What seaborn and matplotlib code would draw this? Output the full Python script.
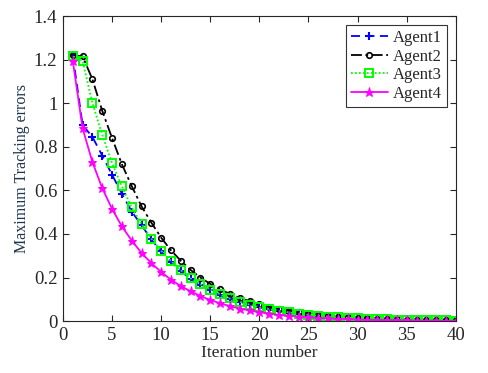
import numpy as np
import pandas as pd
import matplotlib
matplotlib.use("Agg")
import matplotlib.pyplot as plt
import seaborn as sns

# iteration numbers and max tracking errors
iterations = list(range(1, 41))

agent1 = [1.22, 0.90, 0.845, 0.76, 0.672, 0.585, 0.503, 0.44, 0.375, 0.32,
          0.272, 0.23, 0.193, 0.167, 0.142, 0.12, 0.102, 0.087, 0.074, 0.063,
          0.054, 0.046, 0.039, 0.033, 0.028, 0.024, 0.0205, 0.0175, 0.015, 0.0127,
          0.0108, 0.0092, 0.0078, 0.0066, 0.0056, 0.0048, 0.0041, 0.0035, 0.003, 0.0025]
agent2 = [1.22, 1.215, 1.11, 0.965, 0.84, 0.72, 0.62, 0.527, 0.452, 0.383,
          0.325, 0.277, 0.235, 0.20, 0.171, 0.146, 0.125, 0.107, 0.091, 0.077,
          0.066, 0.056, 0.048, 0.041, 0.035, 0.030, 0.025, 0.021, 0.018, 0.016,
          0.013, 0.011, 0.0097, 0.0083, 0.007, 0.006, 0.0051, 0.0044, 0.0037, 0.0032]
agent3 = [1.215, 1.195, 1.0, 0.855, 0.725, 0.618, 0.522, 0.446, 0.379, 0.323,
          0.276, 0.234, 0.196, 0.17, 0.145, 0.123, 0.104, 0.089, 0.076, 0.064,
          0.055, 0.047, 0.04, 0.034, 0.029, 0.025, 0.021, 0.018, 0.015, 0.013,
          0.011, 0.0094, 0.008, 0.0068, 0.0058, 0.005, 0.0042, 0.0036, 0.0031, 0.0026]
agent4 = [1.195, 0.885, 0.73, 0.61, 0.515, 0.435, 0.37, 0.313, 0.266, 0.226,
          0.19, 0.161, 0.137, 0.115, 0.097, 0.082, 0.069, 0.058, 0.049, 0.041,
          0.035, 0.029, 0.025, 0.021, 0.018, 0.015, 0.0125, 0.0105, 0.009, 0.0075,
          0.0063, 0.0053, 0.0045, 0.0038, 0.0032, 0.0027, 0.0023, 0.0019, 0.0016, 0.0014]

x_ticks = [0, 5, 10, 15, 20, 25, 30, 35, 40]
y_ticks = [0, 0.2, 0.4, 0.6, 0.8, 1.0, 1.2, 1.4]
y_tick_labels = ["0", "0.2", "0.4", "0.6", "0.8", "1", "1.2", "1.4"]

sns.set_style("ticks")
plt.rcParams['font.family'] = ['Liberation Serif', 'DejaVu Serif']

df = pd.DataFrame({"iter": iterations, "Agent1": agent1, "Agent2": agent2,
                   "Agent3": agent3, "Agent4": agent4})

styles = {
    "Agent1": dict(color="#0000ff", ls=(0, (5, 3)), marker="+", ms=6, mew=1.5, mfc="none"),
    "Agent2": dict(color="black", ls=(0, (6, 2, 1.5, 2)), marker="o", ms=4, mew=1.2, mfc="none"),
    "Agent3": dict(color="#00ff00", ls=(0, (1, 1.2)), marker="s", ms=5.2, mew=1.4, mfc="none"),
    "Agent4": dict(color="#ff00ff", ls="-", marker="*", ms=6.8, mew=0.7, mfc="#ff00ff"),
}

fig = plt.figure(figsize=(4.88, 3.73), dpi=100)
ax = fig.add_axes([0.129, 0.139, 0.805, 0.818])

for name, st in styles.items():
    sns.lineplot(data=df, x="iter", y=name, ax=ax, label=name,
                 color=st["color"], linestyle=st["ls"], linewidth=1.3,
                 marker=st["marker"], markersize=st["ms"], markeredgewidth=st["mew"],
                 markerfacecolor=st["mfc"], markeredgecolor=st["color"])

ax.set_xlim(0, 40)
ax.set_ylim(0, 1.4)
ax.set_xticks(x_ticks)
ax.set_yticks(y_ticks)
ax.set_yticklabels(y_tick_labels)
ax.tick_params(direction="in", top=True, right=True, labelsize=13.5, length=4, width=0.8, pad=4)
for sp in ax.spines.values():
    sp.set_linewidth(0.8)
    sp.set_visible(True)

ax.set_xlabel("Iteration number", fontsize=12.5, labelpad=1)
ax.set_ylabel("Maximum Tracking errors", fontsize=11.5, color="#1f3550", labelpad=3)

leg = ax.legend(loc="upper right", fontsize=12, frameon=True, fancybox=False,
                edgecolor="black", handlelength=2.2, borderpad=0.3, labelspacing=0.15,
                handletextpad=0.3, borderaxespad=0.55)
leg.get_frame().set_linewidth(0.8)

fig.savefig("out.png", dpi=100)
